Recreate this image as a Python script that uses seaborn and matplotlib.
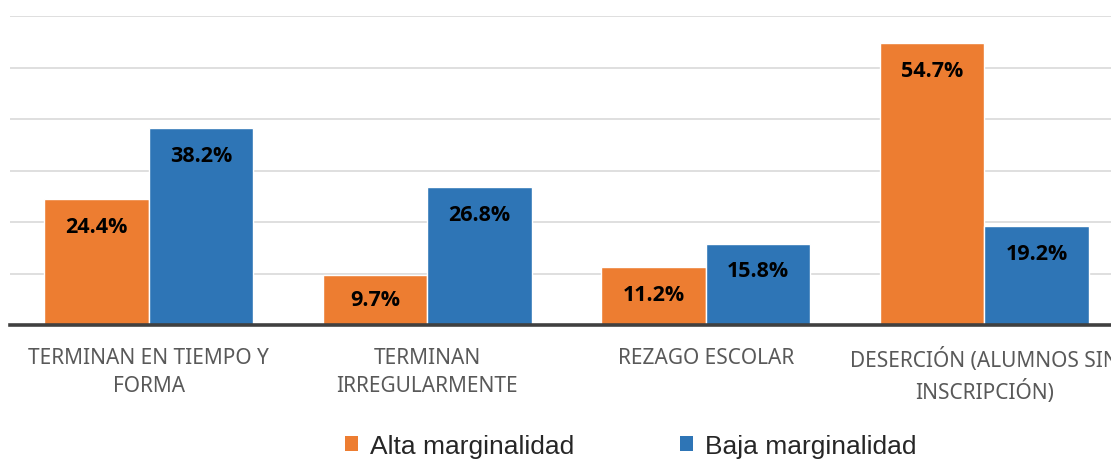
import matplotlib
matplotlib.use("Agg")
import matplotlib.pyplot as plt
import seaborn as sns
import pandas as pd

categorias = [
    "TERMINAN EN TIEMPO Y\nFORMA",
    "TERMINAN\nIRREGULARMENTE",
    "REZAGO ESCOLAR",
    "DESERCIÓN (ALUMNOS SIN\nINSCRIPCIÓN)",
]
series = ["Alta marginalidad", "Baja marginalidad"]
alta = [24.4, 9.7, 11.2, 54.7]
baja = [38.2, 26.8, 15.8, 19.2]
colores = ["#ED7D31", "#2E75B6"]

df = pd.DataFrame({
    "categoria": categorias * 2,
    "serie": [series[0]] * len(categorias) + [series[1]] * len(categorias),
    "valor": alta + baja,
})

sns.set_theme(style="white")
plt.rcParams["font.family"] = ["Noto Sans", "DejaVu Sans"]

fig = plt.figure(figsize=(11.11, 4.64), dpi=100)
ax = fig.add_axes([9.5 / 1111, 1 - 326 / 464, 1114 / 1111, (326 - 17) / 464])

sns.barplot(data=df, x="categoria", y="valor", hue="serie", palette=colores,
            saturation=1, width=0.75, edgecolor="white", linewidth=1, ax=ax,
            legend=False, zorder=3)

ax.set_ylim(0, 60)
ax.set_xlim(-0.5, 3.5)
ax.set_yticks(range(10, 61, 10))
ax.yaxis.grid(True, color="#D9D9D9", linewidth=1.2, zorder=0)
ax.set_yticklabels([])
ax.tick_params(axis="y", length=0)
ax.tick_params(axis="x", length=0, pad=16, labelsize=15, labelcolor="#595959")
for lbl in ax.get_xticklabels():
    lbl.set_linespacing(1.4)
ax.set_xlabel("")
ax.set_ylabel("")
for s in ["top", "right", "left"]:
    ax.spines[s].set_visible(False)
ax.spines["bottom"].set_color("#404040")
ax.spines["bottom"].set_linewidth(2.6)
ax.spines["bottom"].set_zorder(4)

# value labels inside the top of each bar
for cont in ax.containers:
    for bar in cont:
        v = bar.get_height()
        x = bar.get_x() + bar.get_width() / 2
        y = max(v - 5.3, 5.0)
        ax.text(x, y, f"{v:.1f}%", ha="center", va="center", fontsize=15.5,
                fontweight="bold", family="Open Sans", color="black", zorder=5)

handles = [plt.Rectangle((0, 0), 1, 1, facecolor=c, edgecolor="none") for c in colores]
fig.legend(handles, series, loc="center", bbox_to_anchor=(631 / 1111, 1 - 447 / 464),
           ncol=2, frameon=False, prop={"family": "Liberation Sans", "size": 19},
           handlelength=0.5, handleheight=0.5, handletextpad=0.45, columnspacing=4.0)

fig.savefig("out.png", dpi=100)
